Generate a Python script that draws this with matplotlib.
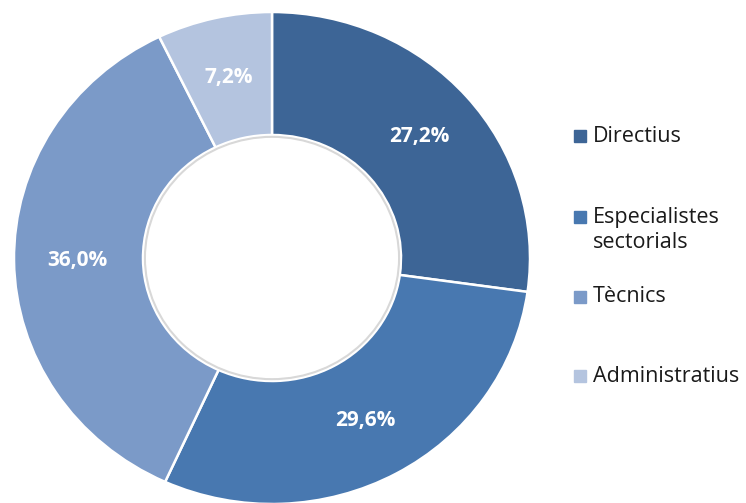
import numpy as np
import matplotlib.pyplot as plt
from matplotlib.patches import Rectangle, Ellipse

# staff categories and their share (%)
categories = ["Directius", "Especialistes\nsectorials", "Tècnics", "Administratius"]
shares = [27.2, 29.6, 36.0, 7.2]
pct_labels = ["27,2%", "29,6%", "36,0%", "7,2%"]
colors = ["#3d6596", "#4878b0", "#7b9ac8", "#b4c4df"]

W, H = 746, 503
cx, cy = 272, 258          # donut centre in pixels
rx, ry = 258, 246          # outer radii (slightly squashed vertically)

fig = plt.figure(figsize=(W / 100, H / 100), dpi=100)
ax = fig.add_axes([0, 0, 1, 1])

wedges, _ = ax.pie(shares, colors=colors, startangle=90, counterclock=False,
                   radius=1.0, wedgeprops=dict(width=0.5, edgecolor="white",
                                               linewidth=1.8))
ax.set_aspect("auto")
ax.set_xlim(-cx / rx, (W - cx) / rx)
ax.set_ylim(-(H - cy) / ry, cy / ry)
ax.axis("off")

# faint shadow just inside the hole
ax.add_patch(Ellipse((0, 0), 0.985, 0.985, fill=False, edgecolor="#d8d8d8",
                     linewidth=1.5, zorder=3))

# percentage labels inside ring
ang0 = 90.0
for s, lab in zip(shares, pct_labels):
    mid = np.deg2rad(ang0 - s * 3.6 / 2)
    ang0 -= s * 3.6
    ax.text(0.755 * np.cos(mid), 0.755 * np.sin(mid), lab, color="white",
            fontsize=15, fontweight="bold", family="Open Sans",
            ha="center", va="center")

# legend drawn by hand to follow the original spacing
leg_y = [136, 217, 297, 376]
for lab, col, y in zip(categories, colors, leg_y):
    fig.patches.append(Rectangle((574 / W, 1 - (y + 6) / H), 12 / W, 12 / H,
                                 transform=fig.transFigure, color=col))
    ty = y + 13 if "\n" in lab else y
    fig.text(593 / W, 1 - ty / H, lab, fontsize=15.5, family="Open Sans",
             color="#1a1a1a", ha="left", va="center", linespacing=1.3)

fig.savefig("out.png", dpi=100)
